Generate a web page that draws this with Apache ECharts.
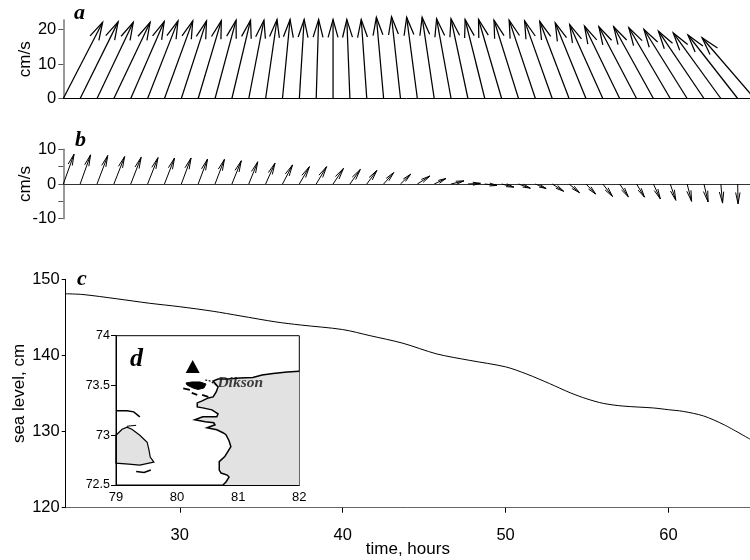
<!DOCTYPE html>
<html><head><meta charset="utf-8">
<style>html,body{margin:0;padding:0;background:#fff}#c{width:750px;height:560px}</style>
<script src="https://cdn.jsdelivr.net/npm/echarts@6/dist/echarts.min.js"></script>
</head><body><div id="c"></div>
<script>
// Panel a: stick vectors (cm/s)
const hoursA = [23,24,25,26,27,28,29,30,31,32,33,34,35,36,37,38,39,40,41,42,43,44,45,46,47,48,49,50,51,52,53,54,55,56,57,58,59,60,61,62,63,64];
const aEast = [11.4,11.0,10.5,10.5,9.7,8.8,8.2,7.3,6.7,6.1,5.4,4.4,3.3,2.2,1.4,0.7,0,-0.9,-1.6,-2.1,-2.6,-3.1,-3.5,-4.2,-4.9,-5.7,-6.7,-7.1,-7.6,-8.0,-8.5,-8.9,-9.6,-10.2,-10.9,-11.5,-12.0,-12.5,-13.2,-13.8,-14.4,-15.2];
const aNorth = [22.1,22.2,22.1,22.1,22.3,22.5,22.5,22.5,22.5,22.7,22.7,22.7,22.9,22.9,22.9,22.9,22.9,22.9,22.9,23.5,23.7,23.5,23.5,23.1,23.1,22.9,22.9,22.7,22.7,22.5,22.3,21.9,21.4,21.0,20.8,20.8,20.5,20.0,19.5,19.0,18.4,17.6];
// Panel b: stick vectors (cm/s)
const hoursB = [23,24,25,26,27,28,29,30,31,32,33,34,35,36,37,38,39,40,41,42,43,44,45,46,47,48,49,50,51,52,53,54,55,56,57,58,59,60,61,62,63];
const bEast = [3.1,3.0,3.1,3.1,3.0,3.0,2.9,2.8,2.7,2.7,2.7,2.6,2.7,2.9,2.9,3.0,3.0,3.0,2.9,2.9,2.9,3.6,3.4,3.7,3.6,3.5,3.5,3.4,3.1,3.3,3.0,2.8,2.8,2.5,2.3,2.0,1.6,1.3,1.2,0.5,0.1];
const bNorth = [8.6,8.4,8.2,7.9,7.7,7.6,7.5,7.5,7.2,7.1,6.7,6.4,6.0,5.5,5.0,5.0,4.5,4.2,3.9,3.3,2.8,2.3,1.6,0.9,0.2,-0.4,-0.9,-1.2,-1.3,-2.1,-2.5,-2.9,-3.6,-3.7,-3.8,-4.3,-4.7,-5.0,-5.2,-5.5,-5.7];
// Panel c: sea level (hour, cm)
const levelHours = [23,24.06,26.1,28.16,30,32.05,33.7,35.9,37.4,40,41.67,43.7,45.77,47.8,50,51.3,52.7,53.96,54.98,56,57.2,59.07,60,60.9,62.15,63.4,65];
const levelCm = [148.1,148.0,147.45,146.85,146.4,145.8,145.2,144.4,144.0,143.4,142.6,141.6,140.2,139.35,138.5,137.55,136.3,135.1,134.3,133.7,133.35,133.1,132.87,132.65,132.05,130.9,129];
const hourTicks = [30,40,50,60];
// Panel d: map outlines (lon, lat)
const mainlandCoast = [[82,73.642],[81.80,73.635],[81.57,73.62],[81.39,73.605],[81.24,73.58],[81.03,73.575],[80.83,73.565],[80.67,73.565],[80.59,73.545],[80.67,73.485],[80.64,73.435],[80.59,73.385],[80.51,73.375],[80.41,73.345],[80.33,73.325],[80.33,73.285],[80.42,73.275],[80.57,73.255],[80.67,73.215],[80.65,73.185],[80.54,73.185],[80.42,73.185],[80.29,73.155],[80.46,73.135],[80.60,73.125],[80.62,73.105],[80.49,73.075],[80.65,73.055],[80.75,73.025],[80.80,73.005],[80.85,72.945],[80.88,72.885],[80.82,72.825],[80.78,72.785],[80.69,72.735],[80.69,72.65],[80.72,72.62],[80.82,72.60],[80.85,72.58],[80.80,72.53],[80.75,72.50]];
const mainlandCorners = [[82,72.5]];
const islandCoast = [[79,73.0],[79.10,73.06],[79.18,73.08],[79.26,73.06],[79.39,73.0],[79.51,72.93],[79.54,72.85],[79.56,72.78],[79.62,72.73],[79.54,72.72],[79.39,72.70],[79.21,72.71],[79,72.72]];
const upperShore = [[79,73.245],[79.18,73.245],[79.29,73.235],[79.39,73.185]];
const islandCap = [[79.18,73.09],[79.33,73.10]];
const lowerShore = [[79.33,72.635],[79.46,72.625],[79.57,72.65]];
const islet1 = [[80.10,73.47],[80.21,73.455]];
const islet2 = [[80.24,73.425],[80.33,73.405]];
const islet3 = [[80.41,73.405],[80.51,73.385]];
const islet4 = [[80.46,73.555],[80.54,73.545],[80.64,73.505]];
const dikson = [[80.146,73.525],[80.244,73.535],[80.375,73.535],[80.473,73.515],[80.44,73.475],[80.342,73.46],[80.26,73.475],[80.162,73.505]];
const station = [[80.255,73.69]];

const SANS = '"Liberation Sans",Arial,sans-serif';
const SERIF = '"Liberation Serif","Times New Roman",serif';
const FS = 16.5;

function arrows(barb, maxFrac, halfAngle, width) {
  return function (params, api) {
    const base = api.coord([api.value(0), 0]);
    const unit = api.size([0, 1])[1];
    const tip = [base[0] + api.value(1) * unit, base[1] - api.value(2) * unit];
    const ang = Math.atan2(base[1] - tip[1], base[0] - tip[0]);
    const len = Math.hypot(base[0] - tip[0], base[1] - tip[1]);
    const b = Math.min(barb, maxFrac * len);
    const wing = a => [tip[0] + b * Math.cos(ang + a), tip[1] + b * Math.sin(ang + a)];
    const style = { stroke: '#000', lineWidth: width, fill: null };
    return { type: 'group', children: [
      { type: 'line', shape: { x1: base[0], y1: base[1], x2: tip[0], y2: tip[1] }, style },
      { type: 'polyline', shape: { points: [wing(halfAngle), tip, wing(-halfAngle)] }, style }
    ]};
  };
}
function outline(closed, fill, stroke, width, extra) {
  return function (params, api) {
    if (params.dataIndex !== 0) return null;
    const n = params.dataInsideLength;
    const pts = [];
    for (let i = 0; i < n; i++) pts.push(api.coord([api.value(0, i), api.value(1, i)]));
    return { type: closed ? 'polygon' : 'polyline', shape: { points: pts },
      style: Object.assign({ fill: closed ? fill : null, stroke: stroke, lineWidth: width }, extra || {}) };
  };
}
function mapSeries(points, closed, fill, stroke, width, extra, z) {
  return { type: 'custom', xAxisIndex: 3, yAxisIndex: 3, coordinateSystem: 'cartesian2d',
    data: points, encode: { x: 0, y: 1 }, renderItem: outline(closed, fill, stroke, width, extra), z: z || 5, silent: true };
}
const zip3 = (a, b, c) => a.map((v, i) => [v, b[i], c[i]]);
const panelLabel = (text, x, y, size) => ({ type: 'text', x, y, z: 20, style: { text, fill: '#000', font: 'italic bold ' + size + 'px ' + SERIF, textVerticalAlign: 'middle' } });
const nameStyle = { fontFamily: SANS, fontSize: 17, color: '#000' };

const option = {
  animation: false,
  backgroundColor: '#fff',
  grid: [
    { left: 63.3, top: 20, width: 686.7, height: 78.5, outerBoundsMode: 'none' },
    { left: 63.3, top: 149.3, width: 686.7, height: 69.4, outerBoundsMode: 'none' },
    { left: 65.7, top: 279.3, width: 684.3, height: 228.4, outerBoundsMode: 'none' },
    { left: 116, top: 335.7, width: 183.3, height: 149.3, outerBoundsMode: 'none', show: true, backgroundColor: '#fff', borderColor: '#000', borderWidth: 1, z: 4 }
  ],
  xAxis: [
    { gridIndex: 0, type: 'value', min: 23, max: 63.73, position: 'bottom', splitLine: { show: false }, axisTick: { show: false }, axisLabel: { show: false }, axisLine: { lineStyle: { color: '#000', width: 1 } } },
    { gridIndex: 1, type: 'value', min: 23, max: 63.73, splitLine: { show: false }, axisTick: { show: false }, axisLabel: { show: false }, axisLine: { onZero: true, lineStyle: { color: '#333', width: 1 } } },
    { gridIndex: 2, type: 'value', min: 23, max: 65, splitLine: { show: false },
      axisTick: { length: 5, customValues: hourTicks, lineStyle: { color: '#000' } },
      axisLabel: { margin: 19, customValues: hourTicks, color: '#000', fontFamily: SANS, fontSize: FS },
      axisLine: { lineStyle: { color: '#666', width: 1 } },
      name: 'time, hours', nameLocation: 'middle', nameGap: 33, nameMoveOverlap: false, nameTextStyle: nameStyle },
    { gridIndex: 3, type: 'value', min: 79, max: 82, interval: 1, z: 6, splitLine: { show: false }, axisTick: { show: false },
      axisLabel: { margin: 6, color: '#000', fontFamily: SANS, fontSize: 13, hideOverlap: false },
      axisLine: { lineStyle: { color: '#000' } } }
  ],
  yAxis: [
    { gridIndex: 0, type: 'value', min: 0, max: 22.75, interval: 10, splitLine: { show: false },
      axisTick: { length: 5, lineStyle: { color: '#555' } },
      axisLabel: { margin: 7, color: '#000', fontFamily: SANS, fontSize: FS, showMaxLabel: false },
      axisLine: { lineStyle: { color: '#777', width: 1.5 } },
      name: 'cm/s', nameLocation: 'middle', nameGap: 29, nameMoveOverlap: false, nameTextStyle: nameStyle },
    { gridIndex: 1, type: 'value', min: -10, max: 10, interval: 5, splitLine: { show: false },
      axisTick: { length: 5, lineStyle: { color: '#555' } },
      axisLabel: { margin: 7, color: '#000', fontFamily: SANS, fontSize: FS, formatter: v => (Math.abs(v) === 5 ? '' : String(v)) },
      axisLine: { lineStyle: { color: '#777', width: 1.5 } },
      name: 'cm/s', nameLocation: 'middle', nameGap: 29, nameMoveOverlap: false, nameTextStyle: nameStyle },
    { gridIndex: 2, type: 'value', min: 120, max: 150, interval: 10, splitLine: { show: false },
      axisTick: { length: 4, lineStyle: { color: '#000' } },
      axisLabel: { margin: 6, color: '#000', fontFamily: SANS, fontSize: FS },
      axisLine: { lineStyle: { color: '#000' } },
      name: 'sea level, cm', nameLocation: 'middle', nameGap: 38, nameMoveOverlap: false, nameTextStyle: nameStyle },
    { gridIndex: 3, type: 'value', min: 72.5, max: 74, interval: 0.5, z: 6, splitLine: { show: false },
      axisTick: { length: 5, lineStyle: { color: '#000' } },
      axisLabel: { margin: 6, color: '#000', fontFamily: SANS, fontSize: 12.5, showMinLabel: true, showMaxLabel: true },
      axisLine: { lineStyle: { color: '#000' } } }
  ],
  series: [
    { type: 'custom', xAxisIndex: 0, yAxisIndex: 0, data: zip3(hoursA, aEast, aNorth), encode: { x: 0, y: 2 }, renderItem: arrows(18.5, 1, 15.5 * Math.PI / 180, 1.25), clip: false, silent: true },
    { type: 'custom', xAxisIndex: 1, yAxisIndex: 1, data: zip3(hoursB, bEast, bNorth), encode: { x: 0, y: 2 }, renderItem: arrows(11.5, 0.62, 11 * Math.PI / 180, 1), clip: false, silent: true },
    { type: 'line', xAxisIndex: 2, yAxisIndex: 2, data: levelHours.map((h, i) => [h, levelCm[i]]), smooth: 0.3, showSymbol: false, lineStyle: { color: '#000', width: 1 }, silent: true },
    mapSeries(mainlandCoast.concat(mainlandCorners), true, '#e2e2e2', 'none', 0, null, 5),
    mapSeries(mainlandCoast, false, null, '#000', 1.5, null, 6),
    mapSeries(islandCoast, true, '#e2e2e2', '#000', 1.2, null, 5),
    mapSeries(upperShore, false, null, '#000', 1.5, null, 6),
    mapSeries(islandCap, false, null, '#000', 1, null, 6),
    mapSeries(lowerShore, false, null, '#000', 1.5, null, 6),
    mapSeries(islet1, false, null, '#000', 1.8, null, 6),
    mapSeries(islet2, false, null, '#000', 1.8, null, 6),
    mapSeries(islet3, false, null, '#000', 1.8, null, 6),
    mapSeries(islet4, false, null, '#000', 1.2, { lineDash: [2, 1.5] }, 6),
    mapSeries(dikson, true, '#000', '#000', 1, null, 6),
    { type: 'scatter', xAxisIndex: 3, yAxisIndex: 3, data: station, symbol: 'triangle', symbolSize: [14, 13], itemStyle: { color: '#000', opacity: 1 }, z: 7, silent: true },
    { type: 'scatter', xAxisIndex: 3, yAxisIndex: 3, data: [[80.66, 73.525]], symbolSize: 0, z: 8, silent: true,
      label: { show: true, position: 'right', distance: 0, formatter: 'Dikson', fontFamily: SERIF, fontStyle: 'italic', fontWeight: 'bold', fontSize: 15.5, color: '#111' } }
  ],
  graphic: [
    panelLabel('a', 74, 13, 22),
    panelLabel('b', 75, 140, 22),
    panelLabel('c', 77, 279, 22),
    panelLabel('d', 130, 359, 26)
  ]
};
echarts.init(document.getElementById('c'), null, { renderer: 'canvas' }).setOption(option);
</script></body></html>
